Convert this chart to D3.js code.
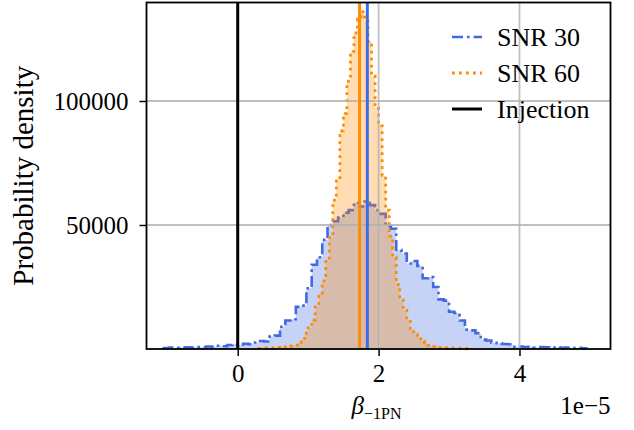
<!DOCTYPE html>
<html><head><meta charset="utf-8">
<script src="https://cdn.jsdelivr.net/npm/d3@7"></script>
<style>body{margin:0;background:#fff} svg{display:block}</style>
</head><body><svg id="c" width="634" height="430"></svg>
<script>
// Histogram of SNR 30 posterior (x in units of 1e-5)
const snr30Start = -1.05, snr30Width = 0.075;
const snr30Density = [400,600,500,600,700,600,800,700,1000,900,1300,1100,1600,1900,1700,2100,1900,2600,3200,3000,
  5000,5400,9000,11500,12000,17000,17500,24500,34000,37000,44000,50000,51500,53000,55000,56000,59000,57500,59500,58000,
  56000,54500,49500,48500,40000,38500,34500,35500,33500,28500,29000,25000,20000,19500,15000,14500,11500,7800,7500,6400,
  3800,3400,2500,2300,2000,1900,900,1000,800,900,600,800,700,500,700,500,600,400,500,300];
// Histogram of SNR 60 posterior
const snr60Start = 0.3, snr60Width = 0.05;
const snr60Density = [200,300,400,300,500,600,500,800,900,1100,1600,2600,3600,6400,8500,11700,17000,22500,27500,35900,
  45000,60000,68500,88000,95000,108000,120000,127500,133000,136000,132000,124000,110000,97000,90000,70000,56000,45500,37000,26000,
  19800,15700,11700,7700,6000,4800,3200,2400,1500,900,800,600,700,500,400,300,300,200,200,100];
const medianSnr30 = 1.84, medianSnr60 = 1.73, injectionValue = 0;
const xTicks = [0, 2, 4];
const yTicks = [50000, 100000];
const legendLabels = ["SNR 30", "SNR 60", "Injection"];

const colBlue = "#4169e1", colOrange = "#ff8c00";
const L = 146.5, R = 610.5, T = 2.5, B = 349;
const x = d3.scaleLinear().domain([-1.295, 5.292]).range([L, R]);
const y = d3.scaleLinear().domain([0, 139718]).range([B, T]);
const svg = d3.select("#c");
const serif = "'Liberation Serif','Times New Roman',serif";

function stepPoints(start, w, vals) {
  const pts = vals.map((v, i) => [start + i * w, v]);
  pts.push([start + vals.length * w, vals[vals.length - 1]]);
  return pts;
}
const area = d3.area().x(d => x(d[0])).y0(y(0)).y1(d => y(d[1])).curve(d3.curveStepAfter);
function outlinePath(pts) {
  let d = `M${x(pts[0][0])},${y(0)}`;
  for (let i = 0; i < pts.length - 1; i++) {
    d += `L${x(pts[i][0])},${y(pts[i][1])}L${x(pts[i + 1][0])},${y(pts[i][1])}`;
  }
  d += `L${x(pts[pts.length - 1][0])},${y(0)}`;
  return d;
}
const p30 = stepPoints(snr30Start, snr30Width, snr30Density);
const p60 = stepPoints(snr60Start, snr60Width, snr60Density);

const g = svg.append("g");
g.append("path").attr("d", area(p30)).attr("fill", colBlue).attr("fill-opacity", 0.3);
g.append("path").attr("d", outlinePath(p30)).attr("fill", "none").attr("stroke", colBlue)
  .attr("stroke-width", 2.6).attr("stroke-dasharray", "11,4,2.6,4");
g.append("path").attr("d", area(p60)).attr("fill", colOrange).attr("fill-opacity", 0.3);
g.append("path").attr("d", outlinePath(p60)).attr("fill", "none").attr("stroke", colOrange)
  .attr("stroke-width", 2.8).attr("stroke-dasharray", "2.8,4.2");

// grid
const grid = svg.append("g").attr("stroke", "#b0b0b0").attr("stroke-opacity", 0.8).attr("stroke-width", 1.8);
xTicks.forEach(t => grid.append("line").attr("x1", x(t)).attr("x2", x(t)).attr("y1", T).attr("y2", B));
yTicks.forEach(t => grid.append("line").attr("x1", L).attr("x2", R).attr("y1", y(t)).attr("y2", y(t)));

// vertical lines
svg.append("line").attr("x1", x(medianSnr30)).attr("x2", x(medianSnr30)).attr("y1", T).attr("y2", B)
  .attr("stroke", colBlue).attr("stroke-width", 3);
svg.append("line").attr("x1", x(medianSnr60)).attr("x2", x(medianSnr60)).attr("y1", T).attr("y2", B)
  .attr("stroke", colOrange).attr("stroke-width", 3);
svg.append("line").attr("x1", x(injectionValue)).attr("x2", x(injectionValue)).attr("y1", T).attr("y2", B)
  .attr("stroke", "#000").attr("stroke-width", 3);

// axes
const xAxis = d3.axisBottom(x).tickValues(xTicks).tickFormat(d3.format("d")).tickSizeOuter(0).tickSize(7).tickPadding(8);
const yAxis = d3.axisLeft(y).tickValues(yTicks).tickFormat(d3.format("d")).tickSizeOuter(0).tickSize(7).tickPadding(11);
const gx = svg.append("g").attr("transform", `translate(0,${B})`).call(xAxis);
const gy = svg.append("g").attr("transform", `translate(${L},0)`).call(yAxis);
[gx, gy].forEach(a => {
  a.select(".domain").remove();
  a.selectAll(".tick line").attr("stroke", "#000").attr("stroke-width", 1.5);
  a.selectAll(".tick text").attr("font-family", serif).attr("font-size", 25).attr("fill", "#000");
});
svg.append("rect").attr("x", L).attr("y", T).attr("width", R - L).attr("height", B - T)
  .attr("fill", "none").attr("stroke", "#000").attr("stroke-width", 1.8);

// labels
svg.append("text").attr("transform", `translate(33,${(T + B) / 2}) rotate(-90)`).attr("text-anchor", "middle")
  .attr("font-family", serif).attr("font-size", 29).text("Probability density");
const xl = svg.append("text").attr("x", (L + R) / 2 - 2).attr("y", 414).attr("text-anchor", "middle")
  .attr("font-family", serif).attr("font-size", 25);
xl.append("tspan").attr("font-style", "italic").text("β");
xl.append("tspan").attr("font-size", 16).attr("dy", 5).text("−1PN");
svg.append("text").attr("x", R).attr("y", 414).attr("text-anchor", "end")
  .attr("font-family", serif).attr("font-size", 25).text("1e−5");

// legend
const lg = svg.append("g");
const styles = [
  {c: colBlue, dash: "11,4,2.6,4", w: 2.6},
  {c: colOrange, dash: "2.8,4.2", w: 2.8},
  {c: "#000", dash: null, w: 3}
];
legendLabels.forEach((lab, i) => {
  const yy = 37 + i * 36;
  lg.append("line").attr("x1", 452).attr("x2", 482).attr("y1", yy).attr("y2", yy)
    .attr("stroke", styles[i].c).attr("stroke-width", styles[i].w).attr("stroke-dasharray", styles[i].dash);
  lg.append("text").attr("x", 497).attr("y", yy + 9).attr("font-family", serif).attr("font-size", 26).text(lab);
});
</script></body></html>
